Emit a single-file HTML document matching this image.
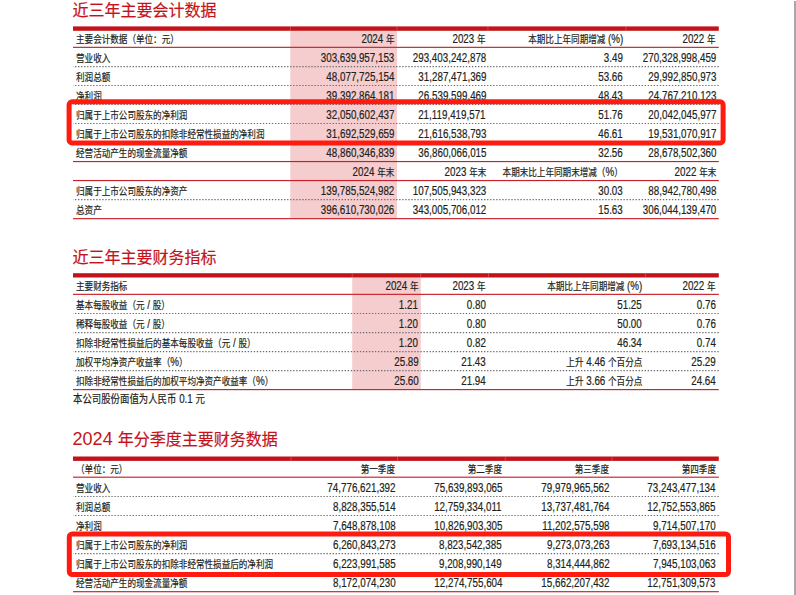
<!DOCTYPE html>
<html lang="zh-CN">
<head>
<meta charset="utf-8">
<title>近三年主要会计数据</title>
<style>
html,body{margin:0;padding:0;background:#fff}
body{width:796px;height:595px;position:relative;overflow:hidden;font-family:"Liberation Sans","Noto Sans CJK SC",sans-serif;font-size:12.3px;color:#231f20}
section,h2,p{margin:0;padding:0;font-weight:normal}
.c{font-family:"Liberation Sans","Noto Sans CJK SC",sans-serif;font-size:10.75px}
.ct{font-family:"Liberation Sans","Noto Sans CJK SC",sans-serif;font-size:16px;-webkit-text-stroke:.2px currentColor}
.cn{font-family:"Liberation Sans","Noto Sans CJK SC",sans-serif;font-size:11.8px}
.tt{position:absolute;left:72.6px;height:20px;line-height:20px;font-size:18px;color:#c5121b;white-space:nowrap}
.rules{position:absolute;left:0;top:0}
.r{position:absolute;left:0;width:796px;height:19px;line-height:19px;white-space:nowrap;-webkit-text-stroke:.2px #231f20}
.l{position:absolute;left:75.5px;top:0;transform:scaleX(0.797);transform-origin:0 50%}
.n{position:absolute;top:0;transform:scaleX(0.797);transform-origin:100% 50%}
.note{position:absolute;left:72.8px;height:19px;line-height:19px;white-space:nowrap;-webkit-text-stroke:.2px #231f20;transform:scaleX(0.797);transform-origin:0 50%}
</style>
</head>
<body>
<svg class="rules" width="796" height="595" viewBox="0 0 796 595" aria-hidden="true">
<rect x="290.3" y="30.8" width="106.7" height="187.8" fill="#f5cdce"/>
<rect x="73.0" y="26.4" width="645.8" height="4.4" fill="#c2131b"/>
<rect x="289.9" y="26.4" width="0.7" height="4.4" fill="#fff" fill-opacity=".3"/>
<rect x="396.6" y="26.4" width="0.7" height="4.4" fill="#fff" fill-opacity=".3"/>
<rect x="487.6" y="26.4" width="0.7" height="4.4" fill="#fff" fill-opacity=".3"/>
<rect x="625.6" y="26.4" width="0.7" height="4.4" fill="#fff" fill-opacity=".3"/>
<rect x="73.0" y="46.77" width="645.8" height="1.15" fill="#c8202a"/>
<path d="M73.0 66.55H718.8" stroke="#6c6d70" stroke-width="1.15" stroke-dasharray="1.35 1.68" stroke-dashoffset="-2" fill="none"/>
<path d="M73.0 85.50H718.8" stroke="#6c6d70" stroke-width="1.15" stroke-dasharray="1.35 1.68" stroke-dashoffset="-2" fill="none"/>
<path d="M73.0 104.50H718.8" stroke="#6c6d70" stroke-width="1.15" stroke-dasharray="1.35 1.68" stroke-dashoffset="-2" fill="none"/>
<path d="M73.0 123.50H718.8" stroke="#6c6d70" stroke-width="1.15" stroke-dasharray="1.35 1.68" stroke-dashoffset="-2" fill="none"/>
<path d="M73.0 142.50H718.8" stroke="#6c6d70" stroke-width="1.15" stroke-dasharray="1.35 1.68" stroke-dashoffset="-2" fill="none"/>
<rect x="73.0" y="160.98" width="645.8" height="1.15" fill="#c8202a"/>
<rect x="73.0" y="179.98" width="645.8" height="1.15" fill="#c8202a"/>
<path d="M73.0 199.55H718.8" stroke="#6c6d70" stroke-width="1.15" stroke-dasharray="1.35 1.68" stroke-dashoffset="-2" fill="none"/>
<rect x="73.0" y="218.08" width="645.8" height="1.15" fill="#c8202a"/>
<rect x="352.2" y="277.5" width="68.6" height="112.1" fill="#f5cdce"/>
<rect x="73.0" y="273.2" width="645.8" height="4.3" fill="#c2131b"/>
<rect x="351.8" y="273.2" width="0.7" height="4.3" fill="#fff" fill-opacity=".3"/>
<rect x="420.4" y="273.2" width="0.7" height="4.3" fill="#fff" fill-opacity=".3"/>
<rect x="488.0" y="273.2" width="0.7" height="4.3" fill="#fff" fill-opacity=".3"/>
<rect x="644.9" y="273.2" width="0.7" height="4.3" fill="#fff" fill-opacity=".3"/>
<rect x="73.0" y="293.78" width="645.8" height="1.15" fill="#c8202a"/>
<path d="M73.0 313.50H718.8" stroke="#6c6d70" stroke-width="1.15" stroke-dasharray="1.35 1.68" stroke-dashoffset="-2" fill="none"/>
<path d="M73.0 332.55H718.8" stroke="#6c6d70" stroke-width="1.15" stroke-dasharray="1.35 1.68" stroke-dashoffset="-2" fill="none"/>
<path d="M73.0 351.55H718.8" stroke="#6c6d70" stroke-width="1.15" stroke-dasharray="1.35 1.68" stroke-dashoffset="-2" fill="none"/>
<path d="M73.0 370.60H718.8" stroke="#6c6d70" stroke-width="1.15" stroke-dasharray="1.35 1.68" stroke-dashoffset="-2" fill="none"/>
<rect x="73.0" y="389.03" width="645.8" height="1.15" fill="#c8202a"/>
<rect x="73.0" y="456.5" width="645.8" height="4.4" fill="#c2131b"/>
<rect x="290.6" y="456.5" width="0.7" height="4.4" fill="#fff" fill-opacity=".3"/>
<rect x="397.2" y="456.5" width="0.7" height="4.4" fill="#fff" fill-opacity=".3"/>
<rect x="504.9" y="456.5" width="0.7" height="4.4" fill="#fff" fill-opacity=".3"/>
<rect x="611.6" y="456.5" width="0.7" height="4.4" fill="#fff" fill-opacity=".3"/>
<rect x="73.0" y="476.62" width="645.8" height="1.15" fill="#c8202a"/>
<path d="M73.0 496.50H718.8" stroke="#6c6d70" stroke-width="1.15" stroke-dasharray="1.35 1.68" stroke-dashoffset="-2" fill="none"/>
<path d="M73.0 515.50H718.8" stroke="#6c6d70" stroke-width="1.15" stroke-dasharray="1.35 1.68" stroke-dashoffset="-2" fill="none"/>
<path d="M73.0 534.55H718.8" stroke="#6c6d70" stroke-width="1.15" stroke-dasharray="1.35 1.68" stroke-dashoffset="-2" fill="none"/>
<path d="M73.0 553.55H718.8" stroke="#6c6d70" stroke-width="1.15" stroke-dasharray="1.35 1.68" stroke-dashoffset="-2" fill="none"/>
<path d="M73.0 572.60H718.8" stroke="#6c6d70" stroke-width="1.15" stroke-dasharray="1.35 1.68" stroke-dashoffset="-2" fill="none"/>
<rect x="73.0" y="591.12" width="645.8" height="1.15" fill="#c8202a"/>
<rect x="794" y="1" width="2" height="594" fill="#a7a8ab"/>
</svg>
<section>
<h2 class="tt" style="top:0px"><span class="ct">近三年主要会计数据</span></h2>
<div class="r" style="top:30px"><span class="l"><span class="c">主要会计数据（单位：元）</span></span><span class="n" style="right:401.6px">2024 <span class="c">年</span></span><span class="n" style="right:310.0px">2023 <span class="c">年</span></span><span class="n" style="right:173.0px"><span class="c">本期比上年同期增减</span> (%)</span><span class="n" style="right:80.0px">2022 <span class="c">年</span></span></div>
<div class="r" style="top:49px"><span class="l"><span class="c">营业收入</span></span><span class="n" style="right:401.6px">303,639,957,153</span><span class="n" style="right:310.0px">293,403,242,878</span><span class="n" style="right:173.0px">3.49</span><span class="n" style="right:80.0px">270,328,998,459</span></div>
<div class="r" style="top:68px"><span class="l"><span class="c">利润总额</span></span><span class="n" style="right:401.6px">48,077,725,154</span><span class="n" style="right:310.0px">31,287,471,369</span><span class="n" style="right:173.0px">53.66</span><span class="n" style="right:80.0px">29,992,850,973</span></div>
<div class="r" style="top:87px"><span class="l"><span class="c">净利润</span></span><span class="n" style="right:401.6px">39,392,864,181</span><span class="n" style="right:310.0px">26,539,599,469</span><span class="n" style="right:173.0px">48.43</span><span class="n" style="right:80.0px">24,767,210,123</span></div>
<div class="r" style="top:106px"><span class="l"><span class="c">归属于上市公司股东的净利润</span></span><span class="n" style="right:401.6px">32,050,602,437</span><span class="n" style="right:310.0px">21,119,419,571</span><span class="n" style="right:173.0px">51.76</span><span class="n" style="right:80.0px">20,042,045,977</span></div>
<div class="r" style="top:125px"><span class="l"><span class="c">归属于上市公司股东的扣除非经常性损益的净利润</span></span><span class="n" style="right:401.6px">31,692,529,659</span><span class="n" style="right:310.0px">21,616,538,793</span><span class="n" style="right:173.0px">46.61</span><span class="n" style="right:80.0px">19,531,070,917</span></div>
<div class="r" style="top:144px"><span class="l"><span class="c">经营活动产生的现金流量净额</span></span><span class="n" style="right:401.6px">48,860,346,839</span><span class="n" style="right:310.0px">36,860,066,015</span><span class="n" style="right:173.0px">32.56</span><span class="n" style="right:80.0px">28,678,502,360</span></div>
<div class="r" style="top:163px"><span class="n" style="right:401.6px">2024 <span class="c">年末</span></span><span class="n" style="right:310.0px">2023 <span class="c">年末</span></span><span class="n" style="right:173.0px"><span class="c">本期末比上年同期末增减（</span>%<span class="c">）</span></span><span class="n" style="right:80.0px">2022 <span class="c">年末</span></span></div>
<div class="r" style="top:182px"><span class="l"><span class="c">归属于上市公司股东的净资产</span></span><span class="n" style="right:401.6px">139,785,524,982</span><span class="n" style="right:310.0px">107,505,943,323</span><span class="n" style="right:173.0px">30.03</span><span class="n" style="right:80.0px">88,942,780,498</span></div>
<div class="r" style="top:201px"><span class="l"><span class="c">总资产</span></span><span class="n" style="right:401.6px">396,610,730,026</span><span class="n" style="right:310.0px">343,005,706,012</span><span class="n" style="right:173.0px">15.63</span><span class="n" style="right:80.0px">306,044,139,470</span></div>
</section>
<section>
<h2 class="tt" style="top:247px"><span class="ct">近三年主要财务指标</span></h2>
<div class="r" style="top:277px"><span class="l"><span class="c">主要财务指标</span></span><span class="n" style="right:377.6px">2024 <span class="c">年</span></span><span class="n" style="right:310.0px">2023 <span class="c">年</span></span><span class="n" style="right:153.8px"><span class="c">本期比上年同期增减</span> (%)</span><span class="n" style="right:80.0px">2022 <span class="c">年</span></span></div>
<div class="r" style="top:296px"><span class="l"><span class="c">基本每股收益（元</span> / <span class="c">股）</span></span><span class="n" style="right:377.6px">1.21</span><span class="n" style="right:310.0px">0.80</span><span class="n" style="right:153.8px">51.25</span><span class="n" style="right:80.0px">0.76</span></div>
<div class="r" style="top:315px"><span class="l"><span class="c">稀释每股收益（元</span> / <span class="c">股）</span></span><span class="n" style="right:377.6px">1.20</span><span class="n" style="right:310.0px">0.80</span><span class="n" style="right:153.8px">50.00</span><span class="n" style="right:80.0px">0.76</span></div>
<div class="r" style="top:334px"><span class="l"><span class="c">扣除非经常性损益后的基本每股收益（元</span> / <span class="c">股）</span></span><span class="n" style="right:377.6px">1.20</span><span class="n" style="right:310.0px">0.82</span><span class="n" style="right:153.8px">46.34</span><span class="n" style="right:80.0px">0.74</span></div>
<div class="r" style="top:353px"><span class="l"><span class="c">加权平均净资产收益率（</span>%<span class="c">）</span></span><span class="n" style="right:377.6px">25.89</span><span class="n" style="right:310.0px">21.43</span><span class="n" style="right:153.8px"><span class="c">上升</span> 4.46 <span class="c">个百分点</span></span><span class="n" style="right:80.0px">25.29</span></div>
<div class="r" style="top:372px"><span class="l"><span class="c">扣除非经常性损益后的加权平均净资产收益率（</span>%<span class="c">）</span></span><span class="n" style="right:377.6px">25.60</span><span class="n" style="right:310.0px">21.94</span><span class="n" style="right:153.8px"><span class="c">上升</span> 3.66 <span class="c">个百分点</span></span><span class="n" style="right:80.0px">24.64</span></div>
</section>
<p class="note" style="top:390px"><span class="cn">本公司股份面值为人民币</span> 0.1 <span class="cn">元</span></p>
<section>
<h2 class="tt" style="top:429px">2024 <span class="ct">年分季度主要财务数据</span></h2>
<div class="r" style="top:460px"><span class="l"><span class="c">（单位：元）</span></span><span class="n" style="right:400.8px"><span class="c">第一季度</span></span><span class="n" style="right:294.0px"><span class="c">第二季度</span></span><span class="n" style="right:186.6px"><span class="c">第三季度</span></span><span class="n" style="right:80.2px"><span class="c">第四季度</span></span></div>
<div class="r" style="top:479px"><span class="l"><span class="c">营业收入</span></span><span class="n" style="right:400.8px">74,776,621,392</span><span class="n" style="right:294.0px">75,639,893,065</span><span class="n" style="right:186.6px">79,979,965,562</span><span class="n" style="right:80.2px">73,243,477,134</span></div>
<div class="r" style="top:498px"><span class="l"><span class="c">利润总额</span></span><span class="n" style="right:400.8px">8,828,355,514</span><span class="n" style="right:294.0px">12,759,334,011</span><span class="n" style="right:186.6px">13,737,481,764</span><span class="n" style="right:80.2px">12,752,553,865</span></div>
<div class="r" style="top:517px"><span class="l"><span class="c">净利润</span></span><span class="n" style="right:400.8px">7,648,878,108</span><span class="n" style="right:294.0px">10,826,903,305</span><span class="n" style="right:186.6px">11,202,575,598</span><span class="n" style="right:80.2px">9,714,507,170</span></div>
<div class="r" style="top:536px"><span class="l"><span class="c">归属于上市公司股东的净利润</span></span><span class="n" style="right:400.8px">6,260,843,273</span><span class="n" style="right:294.0px">8,823,542,385</span><span class="n" style="right:186.6px">9,273,073,263</span><span class="n" style="right:80.2px">7,693,134,516</span></div>
<div class="r" style="top:555px"><span class="l"><span class="c">归属于上市公司股东的扣除非经常性损益后的净利润</span></span><span class="n" style="right:400.8px">6,223,991,585</span><span class="n" style="right:294.0px">9,208,990,149</span><span class="n" style="right:186.6px">8,314,444,862</span><span class="n" style="right:80.2px">7,945,103,063</span></div>
<div class="r" style="top:574px"><span class="l"><span class="c">经营活动产生的现金流量净额</span></span><span class="n" style="right:400.8px">8,172,074,230</span><span class="n" style="right:294.0px">12,274,755,604</span><span class="n" style="right:186.6px">15,662,207,432</span><span class="n" style="right:80.2px">12,751,309,573</span></div>
</section>
<svg class="rules" width="796" height="595" viewBox="0 0 796 595" aria-hidden="true">
<rect x="69.1" y="101.8" width="654.0" height="41.1" rx="3" ry="3" fill="none" stroke="#ff1b10" stroke-width="5"/>
<rect x="69.3" y="534.0" width="659.2" height="40.5" rx="3" ry="3" fill="none" stroke="#ff1b10" stroke-width="5"/>
</svg>
</body>
</html>
